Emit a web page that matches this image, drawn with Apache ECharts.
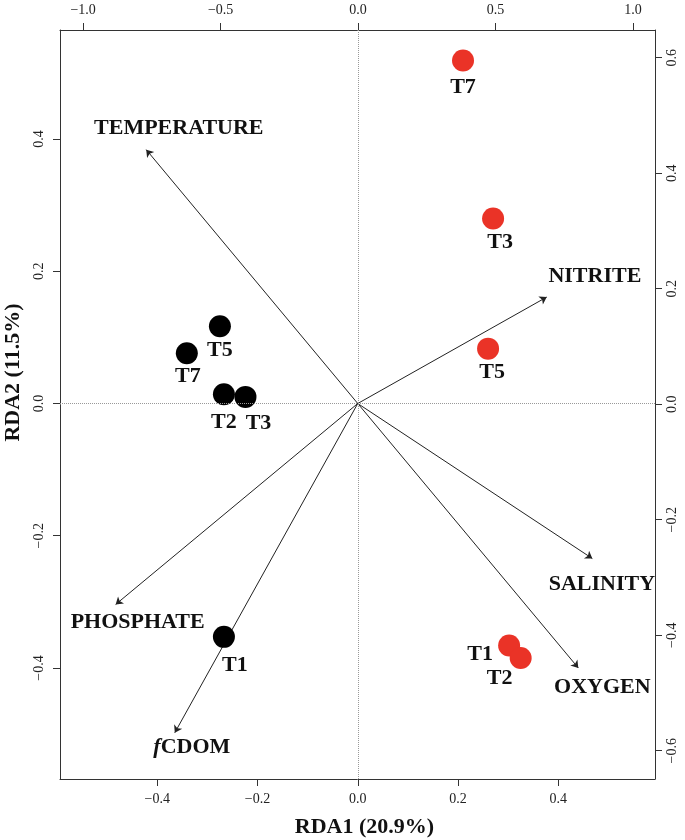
<!DOCTYPE html>
<html>
<head>
<meta charset="utf-8">
<script src="https://cdn.jsdelivr.net/npm/echarts@6/dist/echarts.min.js"></script>
<style>
html,body{margin:0;padding:0;background:#fff;}
#chart{width:685px;height:840px;}
</style>
</head>
<body>
<div id="chart"></div>
<script>
// ---- data ----
var blackNames = ['T1', 'T2', 'T3', 'T5', 'T7'];
var blackX = [-0.267, -0.267, -0.224, -0.275, -0.341];
var blackY = [-0.353, 0.014, 0.010, 0.117, 0.076];

var redNames = ['T1', 'T2', 'T3', 'T5', 'T7'];
var redX = [0.302, 0.325, 0.270, 0.260, 0.210];
var redY = [-0.366, -0.385, 0.280, 0.083, 0.519];

var envNames = ['TEMPERATURE', 'NITRITE', 'PHOSPHATE', 'fCDOM', 'SALINITY', 'OXYGEN'];
var envX = [-0.422, 0.377, -0.483, -0.365, 0.468, 0.440];
var envY = [0.384, 0.161, -0.304, -0.498, -0.2345, -0.400];
var envLabelX = [-0.357, 0.473, -0.439, -0.331, 0.487, 0.488];
var envLabelY = [0.416, 0.193, -0.331, -0.520, -0.274, -0.430];

var bottomTicks = [-0.4, -0.2, 0.0, 0.2, 0.4];
var leftTicks = [-0.4, -0.2, 0.0, 0.2, 0.4];
var topTicks = [-1.0, -0.5, 0.0, 0.5, 1.0];
var rightTicks = [-0.6, -0.4, -0.2, 0.0, 0.2, 0.4, 0.6];

// ---- label offsets (pixels) ----
var blackOffsets = [[11, 28], [0, 28], [13, 26], [0, 24], [1, 23]];
var redOffsets = [[-29, 9], [-21, 20], [7, 24], [4, 24], [0, 27]];

var SERIF = '"Liberation Serif", "DejaVu Serif", serif';
function fmt(v) { return (v < 0 ? '\u2212' : '') + Math.abs(v).toFixed(1); }

function axisCommon(ticks, extra, labelExtra) {
  var a = {
    type: 'value',
    splitLine: { show: false },
    axisLine: { show: true, onZero: false, lineStyle: { color: '#333', width: 1 } },
    axisTick: { show: true, length: 7, customValues: ticks, lineStyle: { color: '#333' } },
    axisLabel: {
      customValues: ticks, formatter: fmt,
      fontFamily: SERIF, fontSize: 14, color: '#222'
    }
  };
  for (var k in extra) a[k] = extra[k];
  for (var j in labelExtra) a.axisLabel[j] = labelExtra[j];
  return a;
}

function pts(xs, ys, names, offs) {
  return xs.map(function (x, i) {
    return {
      value: [x, ys[i]], name: names[i],
      label: { offset: offs[i] }
    };
  });
}

var arrows = envX.map(function (x, i) { return { coords: [[0, 0], [x, envY[i]]] }; });
var envLabels = envLabelX.map(function (x, i) {
  return { value: [x, envLabelY[i]], name: envNames[i] };
});

var chart = echarts.init(document.getElementById('chart'), null, { renderer: 'canvas' });

var labelStyle = {
  show: true, position: 'inside', color: '#111',
  fontFamily: SERIF, fontWeight: 'bold', fontSize: 22,
  formatter: function (p) { return p.name; }
};

var titleStyle = { fontFamily: SERIF, fontWeight: 'bold', fontSize: 22, color: '#111' };

var option = {
  backgroundColor: '#fff',
  animation: false,
  grid: { left: 60, right: 30, top: 30, bottom: 61, containLabel: false, outerBoundsMode: 'none' },
  xAxis: [
    axisCommon(bottomTicks, {
      position: 'bottom', min: -0.594, max: 0.593,
      name: 'RDA1 (20.9%)', nameLocation: 'middle', nameGap: 37,
      nameTextStyle: Object.assign({ padding: [0, 0, 0, 14] }, titleStyle)
    }, { margin: 13 }),
    axisCommon(topTicks, { position: 'top', min: -1.084, max: 1.08 }, { margin: 13 })
  ],
  yAxis: [
    axisCommon(leftTicks, {
      position: 'left', min: -0.568, max: 0.565,
      name: 'RDA2 (11.5%)', nameLocation: 'middle', nameGap: 30,
      nameTextStyle: Object.assign({ padding: [0, 0, 0, 64] }, titleStyle)
    }, { rotate: 90, margin: 14 }),
    axisCommon(rightTicks, { position: 'right', min: -0.649, max: 0.648 }, { rotate: 90, margin: 10 })
  ],
  series: [
    {
      type: 'lines', coordinateSystem: 'cartesian2d', xAxisIndex: 0, yAxisIndex: 0,
      polyline: false, silent: true,
      symbol: ['none', 'arrow'], symbolSize: [0, 7],
      lineStyle: { color: '#222', width: 1, opacity: 1 },
      data: arrows,
      markLine: {
        silent: true, symbol: 'none', label: { show: false },
        lineStyle: { type: 'dotted', color: '#999', width: 1 },
        data: [{ xAxis: 0 }, { yAxis: 0 }]
      }
    },
    {
      type: 'scatter', xAxisIndex: 0, yAxisIndex: 0,
      symbol: 'circle', symbolSize: 22, silent: true,
      itemStyle: { color: '#000', opacity: 1 },
      label: labelStyle,
      data: pts(blackX, blackY, blackNames, blackOffsets)
    },
    {
      type: 'scatter', xAxisIndex: 0, yAxisIndex: 0,
      symbol: 'circle', symbolSize: 22, silent: true,
      itemStyle: { color: '#ea3327', opacity: 1 },
      label: labelStyle,
      data: pts(redX, redY, redNames, redOffsets)
    },
    {
      type: 'scatter', xAxisIndex: 0, yAxisIndex: 0,
      symbolSize: 0, silent: true,
      itemStyle: { opacity: 1 },
      label: {
        show: true, position: 'inside', color: '#111',
        fontFamily: SERIF, fontWeight: 'bold', fontSize: 22,
        formatter: function (p) {
          return p.name === 'fCDOM' ? '{i|f}CDOM' : p.name;
        },
        rich: {
          i: { fontFamily: SERIF, fontWeight: 'bold', fontStyle: 'italic', fontSize: 22, color: '#111' }
        }
      },
      data: envLabels
    }
  ]
};
chart.setOption(option);
</script>
</body>
</html>
